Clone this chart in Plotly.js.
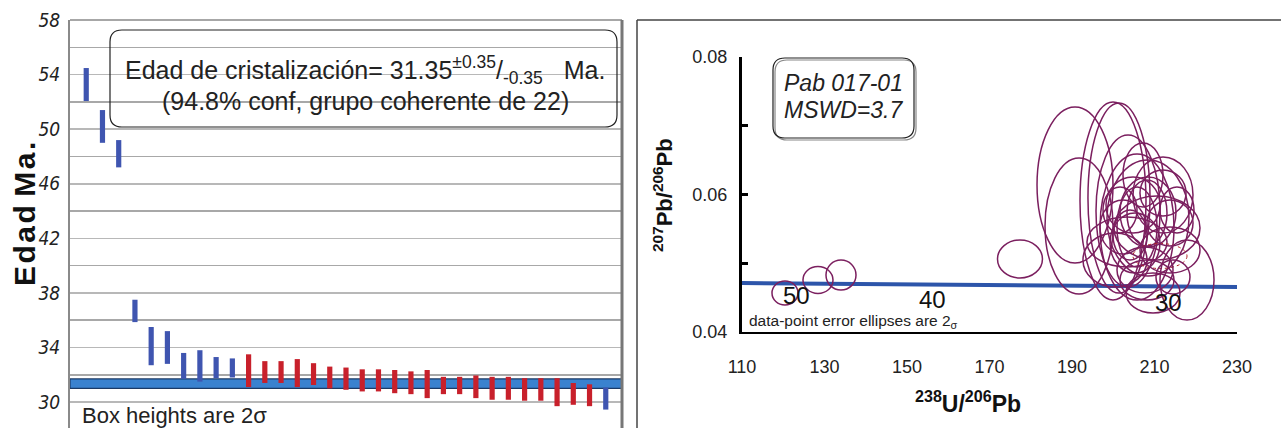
<!DOCTYPE html>
<html>
<head>
<meta charset="utf-8">
<script src="https://cdn.plot.ly/plotly-3.0.1.min.js"></script>
<style>html,body{margin:0;padding:0;background:#fff;}#chart{width:1281px;height:428px;}</style>
</head>
<body>
<div id="chart"></div>
<script>
// ---------- Left panel data: age bars (Ma), 2-sigma box bottoms/tops ----------
const grainIndex = [1,2,3,4,5,6,7,8,9,10,11,12,13,14,15,16,17,18,19,20,21,22,23,24,25,26,27,28,29,30,31,32,33];
const ageLow  = [52.06,49.0,47.2,35.86,32.7,32.8,31.7,31.5,31.75,31.8,31.1,31.4,31.4,31.1,31.25,31.0,30.9,30.78,30.78,30.65,30.58,30.29,30.58,30.58,30.29,30.17,30.17,30.1,30.1,29.7,29.8,29.7,29.45];
const ageHigh = [54.48,51.4,49.2,37.5,35.5,35.2,33.6,33.8,33.3,33.2,33.5,33.0,33.0,33.15,32.85,32.6,32.53,32.4,32.4,32.35,32.25,32.35,31.85,31.85,31.95,31.85,31.85,31.75,31.75,31.75,31.4,31.3,31.07];
const accepted = [0,0,0,0,0,0,0,0,0,0,1,1,1,1,1,1,1,1,1,1,1,1,1,1,1,1,1,1,1,1,1,1,0];
const meanAge = 31.35;
const meanErr = 0.35;
const ageTicks = [30,34,38,42,46,50,54,58];
const ageTickLabels = ['30','34','38','42','46','50','54','58'];

// ---------- Right panel data: Tera-Wasserburg ellipses ----------
const ellX  = [120.42,128.42,134.0,177.39,190.73,191.70,199.94,201.39,203.58,205.76,208.42,210.61,208.42,203.33,200.42,205.76,208.18,211.33,217.88,208.18,213.76,213.76,204.79,209.64,205.27,212.06,212.06,207.21,215.45,204.06,207.70,214.48,202.36,201.64];
const ellY  = [0.04567,0.04756,0.04829,0.05062,0.06138,0.05542,0.05905,0.05949,0.0576,0.05527,0.05658,0.05513,0.05745,0.05309,0.05047,0.05527,0.05731,0.05105,0.04756,0.04756,0.05193,0.05585,0.05847,0.04567,0.05295,0.05993,0.06022,0.06284,0.05775,0.05411,0.04902,0.048,0.05527,0.05775];
const ellRx = [3.15,3.64,3.64,5.45,9.21,8.24,8.0,7.52,7.76,8.97,9.94,10.42,6.79,9.7,7.76,4.85,4.85,6.55,6.55,6.55,7.27,5.58,6.55,6.55,6.06,7.27,5.58,4.85,4.12,4.12,6.79,4.12,5.58,4.12];
const ellRy = [0.00175,0.00196,0.00218,0.00276,0.01135,0.00989,0.0144,0.01382,0.01105,0.01062,0.00844,0.00465,0.00509,0.00364,0.00393,0.00582,0.0048,0.00182,0.00582,0.00291,0.00335,0.00335,0.00407,0.00291,0.00436,0.00553,0.00335,0.00465,0.00335,0.00364,0.00335,0.00247,0.00393,0.00335];
const ellRed = [0,0,0,0,0,0,0,0,0,0,0,0,0,0,0,0,0,1,0,0,0,0,0,0,0,0,0,0,0,0,0,0,0,0];
const concX = [110, 230];
const concY = [0.04713, 0.04656];
const concAgeLabels = ['50','40','30'];
const concAgeX = [123.1, 156.1, 213.3];
const concAgeY = [0.04530, 0.04480, 0.04422];
const xTicks2 = [110,130,150,170,190,210,230];
const yTicks2 = [0.04,0.06,0.08];
const yTickLabels2 = ['0.04','0.06','0.08'];

// ---------- helpers ----------
const W = 1281, H = 428;
const px = v => v / W;
const py = v => 1 - v / H;
function roundRect(x0, y0, x1, y1, r) {
  const P = (x, y) => px(x).toFixed(5) + ',' + py(y).toFixed(5);
  return 'M' + P(x0 + r, y0) + ' L' + P(x1 - r, y0) + ' Q' + P(x1, y0) + ' ' + P(x1, y0 + r) +
    ' L' + P(x1, y1 - r) + ' Q' + P(x1, y1) + ' ' + P(x1 - r, y1) +
    ' L' + P(x0 + r, y1) + ' Q' + P(x0, y1) + ' ' + P(x0, y1 - r) +
    ' L' + P(x0, y0 + r) + ' Q' + P(x0, y0) + ' ' + P(x0 + r, y0) + ' Z';
}
const FONT = 'Liberation Sans, Arial, sans-serif';
const NARROW = 'Liberation Sans Narrow, Arial Narrow, DejaVu Sans Condensed, sans-serif';

const traces = [
  {
    type: 'bar', x: grainIndex,
    base: ageLow,
    y: ageHigh.map((h, i) => h - ageLow[i]),
    width: 0.32,
    marker: { color: accepted.map(a => a ? '#c8202b' : '#3f55b0'), line: { width: 0 } },
    xaxis: 'x', yaxis: 'y', hoverinfo: 'skip', showlegend: false
  },
  {
    type: 'scatter', mode: 'lines', x: concX, y: concY,
    line: { color: '#2d55aa', width: 4 },
    xaxis: 'x2', yaxis: 'y2', hoverinfo: 'skip', showlegend: false
  }
];

const shapes = [
  // weighted mean band
  { type: 'rect', xref: 'x', yref: 'y', x0: 0, x1: 34, y0: meanAge - meanErr, y1: meanAge + meanErr,
    fillcolor: '#3a82cf', line: { color: '#1b3a66', width: 1.2 }, layer: 'between' },
  // left panel frame pieces
  { type: 'line', xref: 'paper', yref: 'paper', x0: px(70), x1: px(622), y0: py(20), y1: py(20), line: { color: '#8a8a8a', width: 1.5 } },
  { type: 'line', xref: 'paper', yref: 'paper', x0: px(622), x1: px(622), y0: py(20), y1: py(428), line: { color: '#777', width: 3 } },
  // right panel frame
  { type: 'line', xref: 'paper', yref: 'paper', x0: px(637), x1: px(1281), y0: py(20), y1: py(20), line: { color: '#444', width: 1.5 } },
  { type: 'line', xref: 'paper', yref: 'paper', x0: px(637), x1: px(637), y0: py(20), y1: py(428), line: { color: '#444', width: 1.5 } },
  // text boxes
  { type: 'path', xref: 'paper', yref: 'paper', path: roundRect(110, 30, 617, 127, 12), line: { color: '#222', width: 1.2 }, fillcolor: 'rgba(255,255,255,0)' },
  { type: 'path', xref: 'paper', yref: 'paper', path: roundRect(775, 60, 916, 140, 12), line: { color: '#888', width: 1.2 }, fillcolor: 'rgba(255,255,255,0)' },
  { type: 'path', xref: 'paper', yref: 'paper', path: roundRect(773, 58, 914, 138, 12), line: { color: '#222', width: 1.2 }, fillcolor: 'rgba(255,255,255,0)' }
];
ellX.forEach((cx, i) => {
  shapes.push({
    type: 'circle', xref: 'x2', yref: 'y2',
    x0: cx - ellRx[i], x1: cx + ellRx[i], y0: ellY[i] - ellRy[i], y1: ellY[i] + ellRy[i],
    line: ellRed[i] ? { color: '#b02020', width: 1, dash: 'dot' } : { color: '#7b1f5f', width: 1.5 },
    fillcolor: 'rgba(0,0,0,0)', layer: 'above'
  });
});

const annotations = [
  { xref: 'paper', yref: 'paper', x: px(24), y: py(214), text: '<b>E\u200Ad\u200Aa\u200Ad M\u200Aa\u200A.</b>', textangle: -90, showarrow: false,
    font: { family: FONT, size: 30, color: '#111' }, xanchor: 'center', yanchor: 'middle' },
  { xref: 'paper', yref: 'paper', x: px(365), y: py(70), showarrow: false, xanchor: 'center', yanchor: 'middle',
    text: 'Edad de cristalización= 31.35<sup>±0.35</sup>/<sub>-0.35</sub>   Ma.',
    font: { family: FONT, size: 25, color: '#222' } },
  { xref: 'paper', yref: 'paper', x: px(365), y: py(101), showarrow: false, xanchor: 'center', yanchor: 'middle',
    text: '(94.8% conf, grupo coherente de 22)', font: { family: FONT, size: 25, color: '#222' } },
  { xref: 'paper', yref: 'paper', x: px(80), y: py(415), showarrow: false, xanchor: 'left', yanchor: 'middle',
    text: 'Box heights are 2σ', font: { family: FONT, size: 22, color: '#222' } },
  // right panel
  { xref: 'paper', yref: 'paper', x: px(663), y: py(195), text: '<b><sup>207</sup>Pb/<sup>206</sup>Pb</b>', textangle: -90, showarrow: false,
    font: { family: FONT, size: 22, color: '#111' }, xanchor: 'center', yanchor: 'middle' },
  { xref: 'paper', yref: 'paper', x: px(968), y: py(402), text: '<b><sup>238</sup>U/<sup>206</sup>Pb</b>', showarrow: false,
    font: { family: FONT, size: 23, color: '#111' }, xanchor: 'center', yanchor: 'middle' },
  { xref: 'paper', yref: 'paper', x: px(844), y: py(83), text: '<i>Pab 017-01</i>', showarrow: false,
    font: { family: FONT, size: 23, color: '#222' }, xanchor: 'center', yanchor: 'middle' },
  { xref: 'paper', yref: 'paper', x: px(844), y: py(110), text: '<i>MSWD=3.7</i>', showarrow: false,
    font: { family: FONT, size: 23, color: '#222' }, xanchor: 'center', yanchor: 'middle' },
  { xref: 'paper', yref: 'paper', x: px(747), y: py(321), text: 'data-point error ellipses are 2<sub>σ</sub>', showarrow: false,
    font: { family: FONT, size: 15.5, color: '#222' }, xanchor: 'left', yanchor: 'middle' }
];
concAgeLabels.forEach((t, i) => {
  annotations.push({ xref: 'x2', yref: 'y2', x: concAgeX[i], y: concAgeY[i], text: t, showarrow: false,
    font: { family: FONT, size: 24, color: '#111' }, xanchor: 'center', yanchor: 'middle' });
});

const layout = {
  width: W, height: H, autosize: false,
  margin: { l: 0, r: 0, t: 0, b: 0, pad: 0 },
  paper_bgcolor: '#fff', plot_bgcolor: 'rgba(0,0,0,0)',
  barmode: 'overlay', showlegend: false,
  xaxis: { domain: [px(70), px(622)], range: [0, 34], visible: false, fixedrange: true, anchor: 'y' },
  yaxis: { domain: [0, py(20)], range: [28.1, 58], anchor: 'x',
    tickvals: ageTicks, ticktext: ageTickLabels.map(t => '<i>' + t + '</i>'),
    showgrid: true, gridcolor: '#b8b8b8', gridwidth: 1.5, zeroline: false,
    minor: { tickvals: [32,36,40,44,48,52,56], showgrid: true, gridcolor: '#a8a8a8', gridwidth: 1.5, ticks: '' },
    showline: true, linecolor: '#8a8a8a', linewidth: 2, ticks: '', ticklabelstandoff: 4,
    tickfont: { family: NARROW, size: 19, color: '#222' } },
  xaxis2: { domain: [px(742), px(1237)], range: [110, 230], anchor: 'y2',
    tickvals: xTicks2, ticktext: xTicks2.map(String), ticks: '', showgrid: false, zeroline: false,
    showline: true, linecolor: '#000', linewidth: 2, ticklabelstandoff: 17,
    tickfont: { family: FONT, size: 18, color: '#222' } },
  yaxis2: { domain: [py(332), py(57)], range: [0.04, 0.08], anchor: 'x2',
    tickvals: yTicks2, ticktext: yTickLabels2, ticks: 'inside', ticklen: 6, tickwidth: 3, tickcolor: '#000',
    minor: { tickvals: [0.05, 0.07], ticks: 'inside', ticklen: 6, tickwidth: 3, tickcolor: '#000', showgrid: false },
    showgrid: false, zeroline: false, showline: true, linecolor: '#000', linewidth: 3, ticklabelstandoff: 8,
    tickfont: { family: FONT, size: 18, color: '#222' } },
  shapes: shapes,
  annotations: annotations
};

Plotly.newPlot('chart', traces, layout, { staticPlot: true, displayModeBar: false });
</script>
</body>
</html>
